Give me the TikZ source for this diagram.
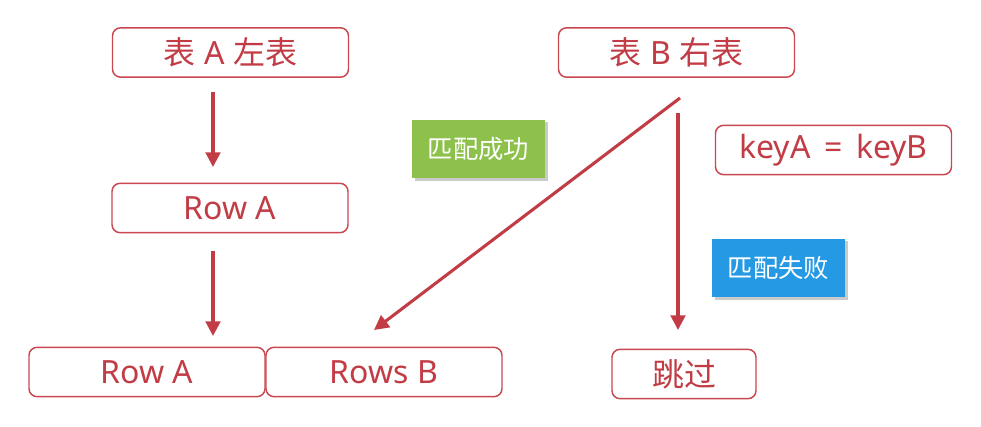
\documentclass[tikz,border=0pt]{standalone}
\usepackage{fontspec}
\setmainfont{Noto Sans}
\newfontfamily\cjk{Noto Sans CJK SC}
\usetikzlibrary{arrows.meta,shadows}
\definecolor{boxred}{HTML}{C9474F}
\definecolor{txtred}{HTML}{C23C46}
\definecolor{okgreen}{HTML}{8DC14B}
\definecolor{failblue}{HTML}{2599E4}
\tikzset{
  pbox/.style={draw=boxred, line width=1.1pt, rounded corners=6pt, fill=white,
    text=txtred, font=\fontsize{24}{28}\selectfont, inner sep=0pt,
    minimum width=177pt, minimum height=37pt},
  tagbox/.style={text=white, font=\cjk\fontsize{19}{22}\selectfont, inner sep=0pt,
    minimum width=100pt, minimum height=44pt,
    drop shadow={shadow xshift=2pt, shadow yshift=-2pt, opacity=0.35, fill=black!60}},
  flow/.style={draw=txtred, line width=2.3pt,
    -{Triangle[length=11pt,width=11pt]}}
}
\begin{document}
\begin{tikzpicture}[x=0.75pt,y=-0.75pt]
\useasboundingbox (0,0) rectangle (981,427);
% tables
\node[pbox] (ta) at (230.5,52.5) {{\cjk 表} A {\cjk 左表}};
\node[pbox] (tb) at (676.5,52.5) {{\cjk 表} B {\cjk 右表}};
\node[pbox] (ra) at (230,208) {Row A};
% joined result row
\node[pbox] (ra2) at (147,372) {Row A};
\node[pbox] (rb) at (384,372) {Rows B};
\node[pbox, minimum width=108pt, font=\cjk\fontsize{24}{28}\selectfont] (skip) at (684,374) {跳过};
\node[pbox] (key) at (833.5,150) {keyA\hspace{4pt} = \hspace{4pt}keyB};
% outcome tags
\node[tagbox, fill=okgreen] (ok) at (478.5,149) {匹配成功};
\node[tagbox, fill=failblue] (fail) at (778.5,268) {匹配失败};
% connector ends
\coordinate (a1s) at (213,92);
\coordinate (a1e) at (213,167);
\coordinate (a2s) at (213,251);
\coordinate (a2e) at (213,336);
\coordinate (ds) at (680,98);
\coordinate (de) at (374,330);
\coordinate (vs) at (678,113);
\coordinate (ve) at (678,330);
\draw[flow] (a1s) -- (a1e);
\draw[flow] (a2s) -- (a2e);
\draw[flow] (ds) -- (de);
\draw[flow] (vs) -- (ve);
\end{tikzpicture}
\end{document}
